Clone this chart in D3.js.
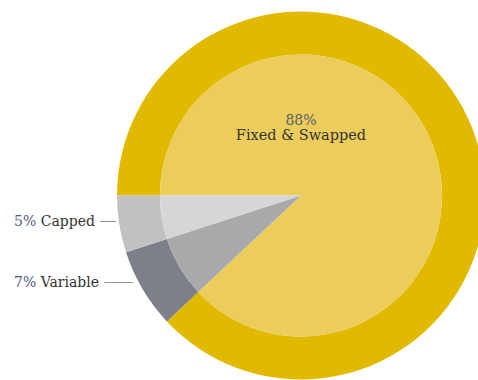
<!DOCTYPE html>
<html>
<head>
<meta charset="utf-8">
<script src="https://cdn.jsdelivr.net/npm/d3@7"></script>
<style>
  html, body { margin: 0; padding: 0; background: #fff; }
  svg { display: block; }
</style>
</head>
<body>
<svg id="chart" width="478" height="380"></svg>
<script>
// Debt mix by rate type
const categories = ["Fixed & Swapped", "Variable", "Capped"];
const values = [88, 7, 5];
const outerColors = ["#E1BA00", "#7E8089", "#C1C1C3"];
const innerColors = ["#ECCD5C", "#A9A9AB", "#D6D6D8"];

const svg = d3.select("#chart");
const cx = 301, cy = 195.5;
const rOuter = 184, rInner = 141;

const pie = d3.pie().sort(null).value(d => d.value)
  .startAngle(1.5 * Math.PI).endAngle(3.5 * Math.PI);
const data = pie(categories.map((c, i) => ({ cat: c, value: values[i], i })));

const g = svg.append("g").attr("transform", `translate(${cx},${cy})`);

const outerArc = d3.arc().innerRadius(rInner).outerRadius(rOuter);
const innerArc = d3.arc().innerRadius(0).outerRadius(rInner);

g.selectAll("path.outer").data(data).join("path")
  .attr("class", "outer")
  .attr("d", outerArc)
  .attr("fill", d => outerColors[d.data.i]);

g.selectAll("path.inner").data(data).join("path")
  .attr("class", "inner")
  .attr("d", innerArc)
  .attr("fill", d => innerColors[d.data.i]);

const font = "'DejaVu Serif', serif";

// Centre label for the main slice
g.append("text")
  .attr("x", 0).attr("y", -70.5)
  .attr("text-anchor", "middle")
  .attr("font-family", font).attr("font-size", 14)
  .attr("fill", "#555B6A")
  .text(values[0] + "%");
g.append("text")
  .attr("x", 0).attr("y", -55.5)
  .attr("text-anchor", "middle")
  .attr("font-family", font).attr("font-size", 14.5)
  .attr("fill", "#333")
  .text(categories[0]);

// Side labels with leader lines for the small slices
const sideLabels = [
  { i: 2, y: 226, x2: 116 },
  { i: 1, y: 287, x2: 133 }
];
sideLabels.forEach(s => {
  const t = svg.append("text")
    .attr("x", 14).attr("y", s.y)
    .attr("font-family", font).attr("font-size", 14);
  t.append("tspan").attr("fill", "#4C5A80").text(values[s.i] + "%");
  t.append("tspan").attr("fill", "#333").text(" " + categories[s.i]);
  const w = t.node().getComputedTextLength();
  svg.append("line")
    .attr("x1", 14 + w + 5).attr("x2", s.x2)
    .attr("y1", s.y - 4.5).attr("y2", s.y - 4.5)
    .attr("stroke", "#8E96B0").attr("stroke-width", 1);
});
</script>
</body>
</html>
